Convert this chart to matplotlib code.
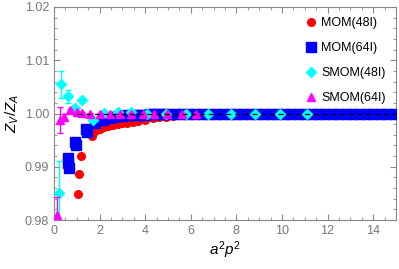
import matplotlib
matplotlib.use("Agg")
import matplotlib.pyplot as plt
from matplotlib.ticker import MultipleLocator

plt.rcParams['font.family'] = ['Liberation Sans', 'DejaVu Sans']
plt.rcParams['mathtext.fontset'] = 'custom'
plt.rcParams['mathtext.rm'] = 'Liberation Sans'
plt.rcParams['mathtext.it'] = 'Liberation Sans:italic'

# MOM(48I)
mom48_x = [1.07, 1.10, 1.17, 1.65, 1.80, 2.0, 2.2, 2.37, 2.6, 2.8, 3.0, 3.2, 3.46, 3.7, 4.0, 4.35, 4.6, 4.9, 5.2]
mom48_y = [0.9849, 0.9886, 0.9920, 0.99575, 0.99665, 0.9970, 0.9974, 0.99764, 0.9978, 0.9980, 0.9982, 0.9983, 0.99845, 0.9986, 0.9988, 0.99915, 0.9993, 0.9994, 0.9995]
mom48_e = [0.0004, 0.0004, 0.0003, 0.0002, 0.0002, 0.0002, 0.0001, 0.0001, 0.0001, 0.0001, 0.0001, 0.0001, 0.0001, 0.0001, 0.0001, 0.0001, 0.0001, 0.0001, 0.0001]

# MOM(64I)
mom64_x = [0.60, 0.62, 0.65, 0.93, 0.97, 1.40, 1.45, 1.80, 2.15, 2.4, 2.6, 2.8, 3.0, 3.2, 3.4, 3.6, 3.8, 4.0, 4.2, 4.4,
           4.6, 4.8, 5.0, 5.3, 5.6, 5.9, 6.2, 6.5, 6.8, 7.1, 7.4, 7.7, 8.0, 8.3, 8.6, 8.9, 9.2, 9.5, 9.8, 10.1,
           10.4, 10.7, 11.0, 11.3, 11.6, 11.9, 12.2, 12.5, 12.8, 13.1, 13.4, 13.7, 14.0, 14.3, 14.6, 14.9]
mom64_y = [0.9917, 0.9907, 0.9897, 0.9947, 0.9940, 0.9970, 0.9966, 0.9982, 0.9988, 0.9992, 0.9994, 0.9995, 0.9996, 0.9997, 0.9997, 0.9998, 0.9998, 0.9998, 0.9999, 0.9999,
           0.9999, 0.9999, 1.0000, 1.0000, 1.0000, 1.0000, 1.0000, 1.0000, 1.0000, 1.0000, 1.0000, 1.0000, 1.0000, 1.0000, 1.0000, 1.0000, 1.0000, 1.0000, 1.0000, 1.0000,
           1.0000, 1.0000, 1.0000, 1.0000, 1.0000, 1.0000, 1.0000, 1.0000, 1.0000, 1.0000, 1.0000, 1.0000, 1.0000, 1.0000, 1.0000, 1.0000]

# SMOM(48I)
smom48_x = [0.22, 0.29, 0.60, 0.92, 1.21, 1.72, 2.2, 2.8, 3.4, 4.1, 4.9, 5.8, 6.75, 7.75, 8.8, 9.9, 11.1]
smom48_y = [0.9850, 1.0055, 1.0032, 1.0010, 1.00245, 0.9988, 1.0001, 1.0003, 1.0002, 0.9999, 1.0000, 1.0000, 1.0000, 1.0000, 1.0000, 1.0000, 1.0000]
smom48_e = [0.0060, 0.0025, 0.0012, 0.0004, 0.0003, 0.0002, 0.0001, 0.0001, 0.0001, 0.0001, 0.0001, 0.0001, 0.0001, 0.0001, 0.0001, 0.0001, 0.0001]

# SMOM(64I)
smom64_x = [0.12, 0.25, 0.45, 0.70, 1.00, 1.25, 1.60, 2.0, 2.45, 2.9, 3.4, 3.9, 4.4, 4.95, 5.6, 6.25]
smom64_y = [0.9809, 0.9988, 0.9993, 1.0006, 1.0003, 1.0001, 1.0000, 1.0000, 1.0000, 1.0000, 1.0000, 1.0000, 1.0000, 1.0000, 1.0000, 1.0000]
smom64_e = [0.0035, 0.0025, 0.0006, 0.0003, 0.0002, 0.0001, 0.0001, 0.0001, 0.0001, 0.0001, 0.0001, 0.0001, 0.0001, 0.0001, 0.0001, 0.0001]

xticks = [0, 2, 4, 6, 8, 10, 12, 14]
yticks = [0.98, 0.99, 1.00, 1.01, 1.02]

fig = plt.figure(figsize=(3.99, 2.69), dpi=100)
ax = fig.add_axes([0.1353, 0.182, 0.857, 0.792])

c1 = ax.errorbar(mom48_x, mom48_y, yerr=mom48_e, fmt='o', color='#ff0000', ms=5.5, capsize=1.5, elinewidth=1, zorder=2)
c2 = ax.errorbar(mom64_x, mom64_y, fmt='s', color='#0000ff', ms=7.5, zorder=3)
c3 = ax.errorbar(smom48_x, smom48_y, yerr=smom48_e, fmt='D', color='#00ffff', ms=5, capsize=2, elinewidth=1, zorder=4)
c4 = ax.errorbar(smom64_x, smom64_y, yerr=smom64_e, fmt='^', color='#ff00ff', ms=6, capsize=2, elinewidth=1, zorder=5)
ax.plot([1.0, 15], [1.0, 1.0], linestyle=(0, (4, 3)), color='black', lw=0.9, zorder=6)

ax.set_xlim(0, 15)
ax.set_ylim(0.98, 1.02)
ax.set_xticks(xticks)
ax.set_yticks(yticks)
ax.set_yticklabels(['%.2f' % v for v in yticks])
ax.xaxis.set_minor_locator(MultipleLocator(0.5))
ax.yaxis.set_minor_locator(MultipleLocator(0.002))
ax.tick_params(which='both', direction='in', top=True, right=True, color='#888888', labelcolor='#777777', labelsize=9)
ax.tick_params(which='major', length=4)
ax.tick_params(which='minor', length=2)
for s in ax.spines.values():
    s.set_color('#888888')

ax.set_xlabel(r'$a^2p^2$', fontsize=11, labelpad=2)
ax.set_ylabel(r'$Z_V/Z_A$', fontsize=11, labelpad=3)

ax.legend([c1[0], c2[0], c3[0], c4[0]], ['MOM(48I)', 'MOM(64I)', 'SMOM(48I)', 'SMOM(64I)'],
          loc='upper right', frameon=False, fontsize=9, handletextpad=0.1, labelspacing=1.05,
          borderaxespad=0.4, handlelength=1.5)

fig.savefig('out.png', dpi=100)
